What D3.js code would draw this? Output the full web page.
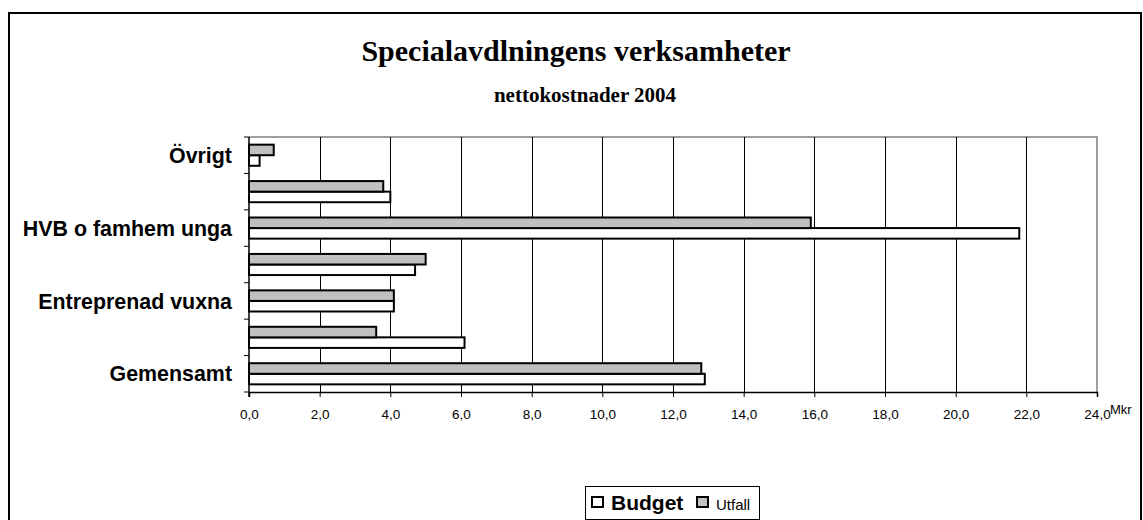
<!DOCTYPE html>
<html>
<head>
<meta charset="utf-8">
<script src="https://cdn.jsdelivr.net/npm/d3@7"></script>
<style>
  body { margin: 0; background: #fff; }
  svg { display: block; }
</style>
</head>
<body>
<svg id="chart" width="1143" height="520"></svg>
<script>
// data, bottom-to-top order as in the sheet; blank names = labels the chart skips
const categories = ["Gemensamt", "", "Entreprenad vuxna", "", "HVB o famhem unga", "", "Övrigt"];
const budget = [12.9, 6.1, 4.1, 4.7, 21.8, 4.0, 0.3];
const utfall = [12.8, 3.6, 4.1, 5.0, 15.9, 3.8, 0.7];
const xTicks = [0, 2, 4, 6, 8, 10, 12, 14, 16, 18, 20, 22, 24];
const seriesNames = ["Budget", "Utfall"];
const seriesColors = ["#ffffff", "#c0c0c0"];

const svg = d3.select("#chart");
const plotL = 249, plotR = 1097, plotT = 137, plotB = 392;

// chart area border
svg.append("rect").attr("x", 9).attr("y", 13).attr("width", 1132).attr("height", 540)
  .attr("fill", "#fff").attr("stroke", "#000").attr("stroke-width", 2);

// titles
svg.append("text").attr("x", 576).attr("y", 61).attr("text-anchor", "middle")
  .style("font-family", "'Liberation Serif', 'Times New Roman', serif")
  .style("font-weight", "bold").style("font-size", "30px")
  .text("Specialavdlningens verksamheter");
svg.append("text").attr("x", 585).attr("y", 102).attr("text-anchor", "middle")
  .style("font-family", "'Liberation Serif', 'Times New Roman', serif")
  .style("font-weight", "bold").style("font-size", "21px")
  .text("nettokostnader 2004");

const x = d3.scaleLinear().domain([0, 24]).range([plotL, plotR]);
// top category drawn first in the band scale
const y = d3.scaleBand().domain(d3.range(categories.length).reverse()).range([plotT, plotB]);
const ySub = d3.scaleBand().domain([1, 0]).range([y.bandwidth() * 0.21, y.bandwidth() * 0.79]);

// plot frame (grey top/right)
svg.append("path")
  .attr("d", `M${plotL},${plotT}H${plotR}V${plotB}`)
  .attr("fill", "none").attr("stroke", "#808080").attr("stroke-width", 1.5);

// grid lines
svg.append("g").selectAll("line").data(xTicks.slice(1, -1)).join("line")
  .attr("x1", d => Math.round(x(d)) + 0.5).attr("x2", d => Math.round(x(d)) + 0.5)
  .attr("y1", plotT).attr("y2", plotB)
  .attr("stroke", "#000").attr("stroke-width", 1);

// bars
const rows = categories.map((c, i) => ({ i: i, vals: [budget[i], utfall[i]] }));
const grp = svg.append("g").selectAll("g").data(rows).join("g")
  .attr("transform", d => `translate(0,${y(d.i)})`);
grp.selectAll("rect").data(d => d.vals.map((v, s) => ({ v: v, s: s }))).join("rect")
  .attr("x", x(0))
  .attr("y", d => ySub(d.s))
  .attr("width", d => x(d.v) - x(0))
  .attr("height", ySub.bandwidth())
  .attr("fill", d => seriesColors[d.s])
  .attr("stroke", "#000").attr("stroke-width", 2);

// x axis
const fmt = d => d3.format(".1f")(d).replace(".", ",");
const xAxis = svg.append("g").attr("transform", `translate(0,${plotB})`)
  .call(d3.axisBottom(x).tickValues(xTicks).tickFormat(fmt).tickSize(5).tickPadding(12));
xAxis.select(".domain").attr("stroke", "#000").attr("stroke-width", 1.5);
xAxis.selectAll("text").style("font-family", "'Liberation Sans', Arial, sans-serif")
  .style("font-size", "13.5px").attr("fill", "#000");

svg.append("text").attr("x", 1110).attr("y", 414)
  .style("font-family", "'Liberation Sans', Arial, sans-serif").style("font-size", "13px")
  .text("Mkr");

// y axis with ticks at band edges
const yAxis = svg.append("g");
yAxis.append("line").attr("x1", plotL).attr("x2", plotL).attr("y1", plotT).attr("y2", plotB + 5)
  .attr("stroke", "#000").attr("stroke-width", 1.5);
yAxis.selectAll(".tk").data(d3.range(categories.length + 1)).join("line").attr("class", "tk")
  .attr("x1", plotL - 5).attr("x2", plotL)
  .attr("y1", k => plotT + k * y.step()).attr("y2", k => plotT + k * y.step())
  .attr("stroke", "#000").attr("stroke-width", 1);
yAxis.selectAll("text").data(rows.filter(d => categories[d.i] !== "")).join("text")
  .attr("x", 232).attr("y", d => y(d.i) + y.bandwidth() / 2).attr("dy", "0.36em")
  .attr("text-anchor", "end")
  .style("font-family", "'Liberation Sans', Arial, sans-serif")
  .style("font-weight", "bold").style("font-size", "21.4px")
  .text(d => categories[d.i]);

// legend
const lg = svg.append("g");
lg.append("rect").attr("x", 585.5).attr("y", 486.5).attr("width", 174).attr("height", 33)
  .attr("fill", "#fff").attr("stroke", "#000").attr("stroke-width", 1);
const legendX = [592, 697], legendTextX = [611, 716];
seriesNames.forEach((n, s) => {
  lg.append("rect").attr("x", legendX[s]).attr("y", 497).attr("width", 11).attr("height", 10)
    .attr("fill", seriesColors[s]).attr("stroke", "#000").attr("stroke-width", 2);
  lg.append("text").attr("x", legendTextX[s]).attr("y", 510)
    .style("font-family", "'Liberation Sans', Arial, sans-serif")
    .style("font-weight", s === 0 ? "bold" : "normal")
    .style("font-size", s === 0 ? "21px" : "15px")
    .text(n);
});
</script>
</body>
</html>
